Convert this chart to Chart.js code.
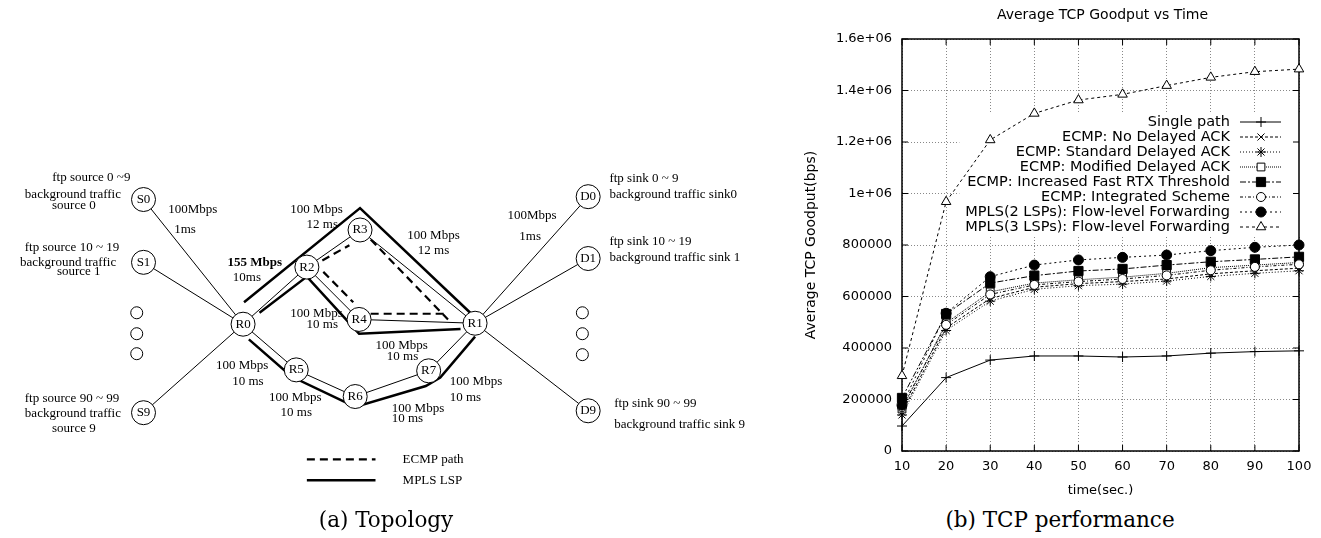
<!DOCTYPE html>
<html>
<head>
<meta charset="UTF-8">
<title>Topology and TCP performance</title>
<script src="https://cdn.jsdelivr.net/npm/chart.js@4"></script>
<style>
  body { margin:0; background:#fff; width:1321px; height:538px; position:relative; overflow:hidden; }
  #topoBox { position:absolute; left:0; top:0; width:780px; height:538px; }
  #perfBox { position:absolute; left:780px; top:0; width:541px; height:500px; }
  .caption { position:absolute; top:507px; line-height:26px; font-family:"DejaVu Serif", serif; font-size:21.5px;
             color:#000; transform:translateX(-50%); white-space:nowrap; }
</style>
</head>
<body>
<div id="topoBox"><canvas id="topo" width="780" height="538"></canvas></div>
<div id="perfBox"><canvas id="perf" width="541" height="500"></canvas></div>
<div class="caption" style="left:386px">(a) Topology</div>
<div class="caption" style="left:1060px">(b) TCP performance</div>

<script>
// ---------- (a) topology ----------
const nodeNames = ['S0','S1','S9','R0','R1','R2','R3','R4','R5','R6','R7','D0','D1','D9'];
const nodeX = [135,135,135,238,478,304,359,358,293,354,430,595,595,595];
const nodeY = [196,262,420,327,326,267,228,322,375,403,376,193,258,418];
const dotX = [128,128,128,589,589,589];
const dotY = [315,337,358,315,337,359];

const links = [['S0','R0'],['S1','R0'],['S9','R0'],['R1','D0'],['R1','D1'],['R1','D9'],
  ['R0','R2'],['R2','R3'],['R3','R1'],['R2','R4'],['R4','R1'],
  ['R0','R5'],['R5','R6'],['R6','R7'],['R7','R1']];

// MPLS LSPs (thick) and ECMP paths (dashed)
const lspPaths = [
  [[239,304],[359,205],[473,315]],
  [[255,315],[304,277],[358,337],[463,332]],
  [[244,343],[288,382],[354,414],[427,392],[442,383],[478,340]]
];
const ecmpPaths = [
  [[320,260],[348,244]],
  [[370,238],[450,322]],
  [[321,272],[352,304]],
  [[370,316],[450,316]]
];
const keyEcmp = [[304,469],[375,469]];
const keyLsp = [[304,491],[375,491]];
const keyText = ['ECMP path','MPLS LSP'];
const keyX = [403,403];
const keyY = [469,491];

const hostText = ['ftp source 0 ~9','background traffic','source 0',
  'ftp source 10 ~ 19','background traffic','source 1',
  'ftp source 90 ~ 99','background traffic','source 9'];
const hostX = [81,62,63,61,57,68,61,62,63];
const hostY = [173,191,202,246,262,272,405,421,437];

const sinkText = ['ftp sink 0 ~ 9','background traffic sink0','ftp sink 10 ~ 19',
  'background traffic sink 1','ftp sink 90 ~ 99','background traffic sink 9'];
const sinkX = [617,617,617,617,622,622];
const sinkY = [174,191,240,257,410,432];

const linkText = ['100Mbps','1ms','155 Mbps','10ms','100 Mbps','12 ms','100 Mbps','12 ms',
  '100 Mbps','10 ms','100 Mbps','10 ms','100 Mbps','10 ms','100 Mbps','10 ms',
  '100 Mbps','10 ms','100 Mbps','10 ms','100Mbps','1ms'];
const linkX = [186,178,250,242,314,320,435,435,314,320,402,403,237,243,292,293,419,408,479,468,537,535];
const linkY = [207,228,262,278,207,222,234,250,316,327,349,361,371,387,404,420,416,426,387,404,213,235];

// ---------- (b) TCP performance ----------
const times = [10,20,30,40,50,60,70,80,90,100];
const seriesNames = [
  'Single path',
  'ECMP: No Delayed ACK',
  'ECMP: Standard Delayed ACK',
  'ECMP: Modified Delayed ACK',
  'ECMP: Increased Fast RTX Threshold',
  'ECMP: Integrated Scheme',
  'MPLS(2 LSPs): Flow-level Forwarding',
  'MPLS(3 LSPs): Flow-level Forwarding'
];
const singlePath   = [97000,285000,353000,369000,369000,365000,369000,380000,386000,389000];
const noDelayedAck = [150000,478000,592000,636000,650000,658000,668000,688000,700000,710000];
const stdDelayed   = [140000,468000,582000,628000,642000,648000,660000,678000,690000,700000];
const modDelayed   = [163000,497000,618000,652000,665000,675000,690000,712000,722000,732000];
const fastRtx      = [206000,532000,652000,681000,699000,707000,722000,735000,744000,754000];
const integrated   = [170000,490000,608000,645000,658000,668000,682000,702000,715000,725000];
const mpls2        = [178000,535000,677000,722000,742000,752000,761000,778000,791000,800000];
const mpls3        = [292000,968000,1208000,1311000,1363000,1385000,1419000,1451000,1473000,1483000];
const yTickLabels = ['0','200000','400000','600000','800000','1e+06','1.2e+06','1.4e+06','1.6e+06'];

const seriesValues = [singlePath,noDelayedAck,stdDelayed,modDelayed,fastRtx,integrated,mpls2,mpls3];
const lineDash = [[],[3,2],[1,2],[1,1],[6,2,2,2],[3,2,1,2],[2,3],[3,3]];
const markStyle = ['cross','crossRot','star','rect','rect','circle','circle','triangle'];
const markRadius = [5,5,5,5.5,6.5,4.5,5,5.5];
const markFill = ['#000','#000','#000','#fff','#000','#fff','#000','#fff'];

// ---------- topology chart ----------
const toPt = p => ({x:p[0], y:p[1]});
const nodePt = n => { const i = nodeNames.indexOf(n); return {x:nodeX[i], y:nodeY[i]}; };

const topoSets = [];
topoSets.push({data: nodeX.map((x,i)=>({x, y:nodeY[i]})), pointRadius:12, pointBackgroundColor:'#fff',
  pointBorderColor:'#000', pointBorderWidth:1, showLine:false, order:0});
topoSets.push({data: dotX.map((x,i)=>({x, y:dotY[i]})), pointRadius:6, pointBackgroundColor:'#fff',
  pointBorderColor:'#000', pointBorderWidth:1, showLine:false, order:0});
links.forEach(l => topoSets.push({data:l.map(nodePt), showLine:true, borderColor:'#000', borderWidth:1, pointRadius:0, order:3}));
lspPaths.concat([keyLsp]).forEach(p => topoSets.push({data:p.map(toPt), showLine:true, borderColor:'#000', borderWidth:2.5, pointRadius:0, order:2}));
ecmpPaths.concat([keyEcmp]).forEach(p => topoSets.push({data:p.map(toPt), showLine:true, borderColor:'#000', borderWidth:2.2, borderDash:[8,5], pointRadius:0, order:2}));

const topoLabels = {
  id:'topoLabels',
  afterDatasetsDraw(chart) {
    const {ctx, scales:{x, y}} = chart;
    ctx.save();
    ctx.fillStyle = '#000';
    ctx.textBaseline = 'middle';
    ctx.textAlign = 'center';
    ctx.font = '13px "Liberation Serif"';
    nodeNames.forEach((n,i) => ctx.fillText(n, x.getPixelForValue(nodeX[i]), y.getPixelForValue(nodeY[i])));
    hostText.forEach((t,i) => ctx.fillText(t, x.getPixelForValue(hostX[i]), y.getPixelForValue(hostY[i])));
    linkText.forEach((t,i) => {
      ctx.font = (i === 2 ? 'bold ' : '') + '13px "Liberation Serif"';
      ctx.fillText(t, x.getPixelForValue(linkX[i]), y.getPixelForValue(linkY[i]));
    });
    ctx.font = '13px "Liberation Serif"';
    ctx.textAlign = 'left';
    sinkText.forEach((t,i) => ctx.fillText(t, x.getPixelForValue(sinkX[i]), y.getPixelForValue(sinkY[i])));
    keyText.forEach((t,i) => ctx.fillText(t, x.getPixelForValue(keyX[i]), y.getPixelForValue(keyY[i])));
    ctx.restore();
  }
};

new Chart(document.getElementById('topo'), {
  type:'scatter',
  data:{datasets:topoSets},
  options:{
    responsive:false, animation:false, events:[],
    layout:{padding:0},
    plugins:{legend:{display:false}, tooltip:{enabled:false}},
    scales:{
      x:{type:'linear', min:0, max:780, display:false},
      y:{type:'linear', min:0, max:538, reverse:true, display:false}
    }
  },
  plugins:[topoLabels]
});

// ---------- goodput chart ----------
const sansFont = {family:'"DejaVu Sans"', size:13};
const keyFont = '14.5px "DejaVu Sans"';

const perfDecor = {
  id:'perfDecor',
  beforeDatasetsDraw(chart) {
    const {ctx, chartArea:a} = chart;
    ctx.save();
    // key background
    ctx.font = keyFont;
    const textRight = a.right - 69;
    const widest = Math.max(...seriesNames.map(s => ctx.measureText(s).width));
    ctx.fillStyle = '#fff';
    ctx.fillRect(textRight - widest - 6, a.top + 75, widest + 6 + 74, 15 * seriesNames.length + 2);
    // frame
    ctx.strokeStyle = '#000';
    ctx.lineWidth = 1.5;
    ctx.strokeRect(a.left, a.top, a.width, a.height);
    // inner tick marks
    ctx.lineWidth = 1;
    const sx = chart.scales.x, sy = chart.scales.y;
    sx.ticks.forEach(t => {
      const px = sx.getPixelForValue(t.value);
      ctx.beginPath();
      ctx.moveTo(px, a.bottom); ctx.lineTo(px, a.bottom - 6);
      ctx.moveTo(px, a.top); ctx.lineTo(px, a.top + 6);
      ctx.stroke();
    });
    sy.ticks.forEach(t => {
      const py = sy.getPixelForValue(t.value);
      ctx.beginPath();
      ctx.moveTo(a.left, py); ctx.lineTo(a.left + 6, py);
      ctx.moveTo(a.right, py); ctx.lineTo(a.right - 6, py);
      ctx.stroke();
    });
    ctx.restore();
  },
  afterDatasetsDraw(chart) {
    const {ctx, chartArea:a} = chart;
    ctx.save();
    // title
    ctx.fillStyle = '#000';
    ctx.font = '14px "DejaVu Sans"';
    ctx.textAlign = 'center';
    ctx.textBaseline = 'middle';
    ctx.fillText('Average TCP Goodput vs Time', (a.left + a.right) / 2 + 2, 15);
    // key
    ctx.font = keyFont;
    ctx.textAlign = 'right';
    chart.data.datasets.forEach((ds, i) => {
      const yy = a.top + 83 + 15 * i;
      ctx.fillStyle = '#000';
      ctx.fillText(ds.label, a.right - 69, yy);
      ctx.strokeStyle = '#000';
      ctx.lineWidth = 1;
      ctx.setLineDash(ds.borderDash);
      ctx.beginPath();
      ctx.moveTo(a.right - 59, yy); ctx.lineTo(a.right - 18, yy);
      ctx.stroke();
      ctx.setLineDash([]);
      ctx.fillStyle = ds.pointBackgroundColor;
      Chart.helpers.drawPoint(ctx, {pointStyle:ds.pointStyle, radius:ds.pointRadius, borderWidth:1, rotation:0}, a.right - 38, yy);
    });
    ctx.restore();
  }
};

new Chart(document.getElementById('perf'), {
  type:'line',
  data:{
    datasets: seriesNames.map((name, i) => ({
      label:name,
      data: times.map((t, k) => ({x:t, y:seriesValues[i][k]})),
      borderColor:'#000', borderWidth:1, borderDash:lineDash[i],
      pointStyle:markStyle[i], pointRadius:markRadius[i],
      pointBackgroundColor:markFill[i], pointBorderColor:'#000', pointBorderWidth:1,
      tension:0, fill:false, clip:false, order:8 - i
    }))
  },
  options:{
    responsive:false, animation:false, events:[],
    layout:{padding:{top:39, right:22, left:0, bottom:0}},
    plugins:{legend:{display:false}, tooltip:{enabled:false}},
    scales:{
      x:{
        type:'linear', min:10, max:100,
        afterFit(s){ s.height = 49; },
        ticks:{stepSize:10, padding:8, font:sansFont, color:'#000', maxRotation:0},
        grid:{color:'#888', drawTicks:false, lineWidth:1},
        border:{display:false, dash:[1,2]},
        title:{display:true, text:'time(sec.)', font:sansFont, color:'#000', padding:{top:0, bottom:2}}
      },
      y:{
        type:'linear', min:0, max:1600000,
        afterFit(s){ s.width = 122; },
        ticks:{stepSize:200000, padding:10, font:sansFont, color:'#000',
               callback:(v) => yTickLabels[Math.round(v / 200000)]},
        grid:{color:'#888', drawTicks:false, lineWidth:1},
        border:{display:false, dash:[1,2]},
        title:{display:true, text:'Average TCP Goodput(bps)', font:{family:'"DejaVu Sans"', size:14}, color:'#000', padding:{top:23, bottom:0}}
      }
    }
  },
  plugins:[perfDecor]
});
</script>
</body>
</html>
